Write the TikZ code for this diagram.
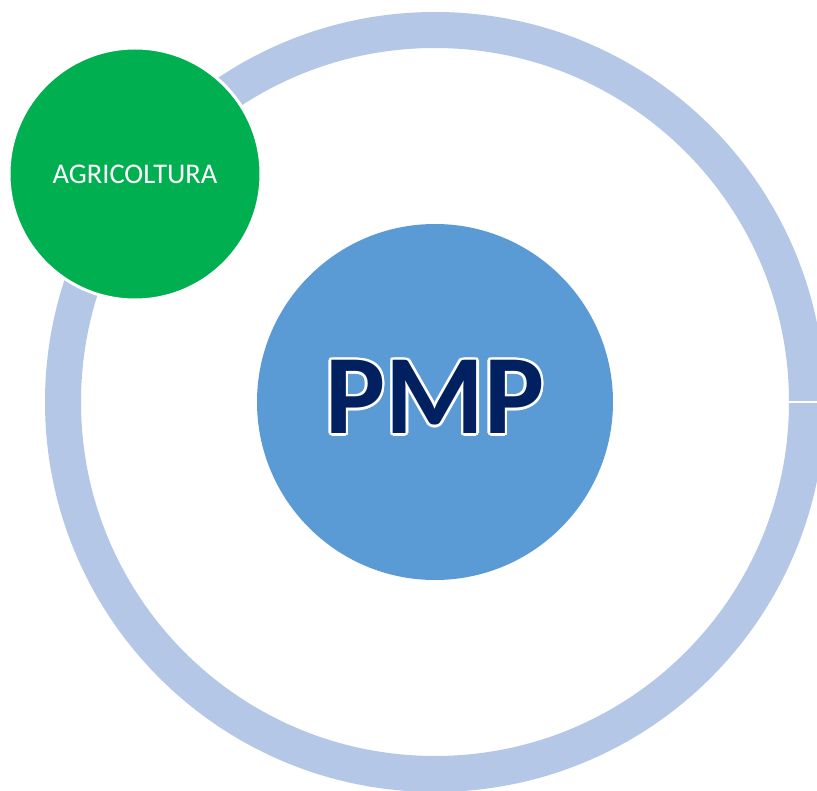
\documentclass[tikz,border=0pt]{standalone}
\usepackage{fontspec}
\setmainfont{Carlito}
\usepackage{contour}
\usetikzlibrary{positioning}

\definecolor{ringblue}{RGB}{180,199,231}
\definecolor{hubblue}{RGB}{91,155,213}
\definecolor{agrigreen}{RGB}{0,176,80}
\definecolor{navy}{RGB}{0,32,96}
\contourlength{2.5pt}

\begin{document}
\begin{tikzpicture}[x=1pt, y=-1pt,
 ring/.style={draw=ringblue, line width=36pt},
 hub node/.style={circle, fill=hubblue, minimum size=356pt, inner sep=0pt,
  text depth=10pt, font=\fontsize{113}{120}\selectfont\bfseries},
 sat node/.style={circle, fill=agrigreen, draw=white, line width=3pt,
  minimum size=252pt, inner sep=0pt, text=white, font=\fontsize{28.5}{32}\selectfont}]

  \clip (0,0) rectangle (817,791);
  \fill[white] (0,0) rectangle (817,791);

  \coordinate (c) at (435,402);
  \draw[ring] (c) circle (372);
  \coordinate (gap) at (789,402);
  \coordinate (edge) at (817,402);
  \draw[white, line width=2pt] (gap) -- (edge);

  \node[hub node] (pmp) at (c) {\contour{white}{\textcolor{navy}{PMP}}};
  \node[sat node] (agri) at (135,174) {AGRICOLTURA};
\end{tikzpicture}
\end{document}
